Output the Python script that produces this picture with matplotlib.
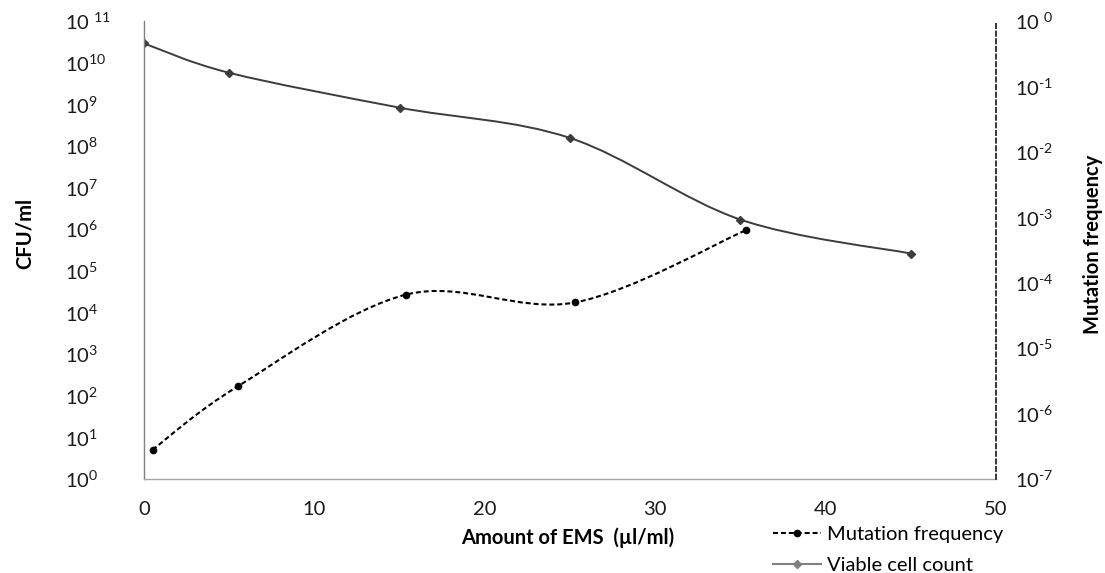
import numpy as np
import matplotlib
matplotlib.use('Agg')
import matplotlib.pyplot as plt
from matplotlib.path import Path
from matplotlib.patches import PathPatch
from matplotlib.lines import Line2D
from matplotlib.ticker import FixedLocator, FixedFormatter

# Dados
ems_viavel = [0, 5, 15, 25, 35, 45]
contagem_viavel = [2.9e10, 5.7e9, 8.3e8, 1.55e8, 1.7e6, 2.6e5]

ems_mutacao = [0.5, 5.5, 15.4, 25.3, 35.3]
freq_mutacao = [2.8e-7, 2.6e-6, 6.6e-5, 5.0e-5, 6.3e-4]

rotulos_esq = ['10$^{0}$', '10$^{1}$', '10$^{2}$', '10$^{3}$', '10$^{4}$', '10$^{5}$',
               '10$^{6}$', '10$^{7}$', '10$^{8}$', '10$^{9}$', '10$^{10}$', '10 $^{11}$']
rotulos_dir = ['10$^{\\text{-}7}$', '10$^{\\text{-}6}$', '10$^{\\text{-}5}$',
               '10$^{\\text{-}4}$', '10$^{\\text{-}3}$', '10$^{\\text{-}2}$',
               '10$^{\\text{-}1}$', '10 $^{0}$']

plt.rcParams['font.family'] = ['Lato', 'DejaVu Sans']
plt.rcParams['mathtext.fontset'] = 'custom'
plt.rcParams['mathtext.rm'] = 'Lato'
plt.rcParams['mathtext.it'] = 'Lato:italic'
plt.rcParams['mathtext.bf'] = 'Lato:bold'

tam = 14.5


def curva_suave(ax, xs, ys, **kw):
    # linha suavizada estilo Excel (Bezier no espaço x, log y)
    x = np.asarray(xs, float)
    ly = np.log10(ys)
    pts = np.column_stack([x, ly])
    p = np.vstack([pts[0], pts, pts[-1]])
    verts = [pts[0]]
    codes = [Path.MOVETO]
    for i in range(1, len(p) - 2):
        c1 = p[i] + (p[i + 1] - p[i - 1]) / 6
        c2 = p[i + 1] - (p[i + 2] - p[i]) / 6
        verts += [c1, c2, p[i + 1]]
        codes += [Path.CURVE4] * 3
    verts = np.array(verts)
    verts[:, 1] = 10 ** verts[:, 1]
    ax.add_patch(PathPatch(Path(verts, codes), fill=False, transform=ax.transData, **kw))


fig = plt.figure(figsize=(11.05, 5.73), dpi=100)
ax = fig.add_axes([144 / 1105, 1 - 479 / 573, (996 - 144) / 1105, (479 - 21) / 573])
ax2 = ax.twinx()

ax.set_xlim(0, 50)
ax.set_yscale('log')
ax.set_ylim(1, 1e11)
ax2.set_yscale('log')
ax2.set_ylim(1e-7, 1)

cor_viavel = '#3c3c3c'
tracejado = (0, (2.4, 1.4))
curva_suave(ax, ems_viavel, contagem_viavel, edgecolor=cor_viavel, linewidth=1.4)
ax.plot(ems_viavel, contagem_viavel, linestyle='none', marker='D', ms=4.5,
        color=cor_viavel)

curva_suave(ax2, ems_mutacao, freq_mutacao, edgecolor='black', linewidth=1.5,
            linestyle=tracejado)
ax2.plot(ems_mutacao, freq_mutacao, linestyle='none', marker='o', ms=4.5, color='black')

# Eixos
ax.set_xticks([0, 10, 20, 30, 40, 50])
ax.yaxis.set_major_locator(FixedLocator([10.0 ** k for k in range(12)]))
ax.yaxis.set_major_formatter(FixedFormatter(rotulos_esq))
ax.yaxis.set_minor_locator(FixedLocator([]))
ax2.yaxis.set_major_locator(FixedLocator([10.0 ** k for k in range(-7, 1)]))
ax2.yaxis.set_major_formatter(FixedFormatter(rotulos_dir))
ax2.yaxis.set_minor_locator(FixedLocator([]))

ax.tick_params(axis='x', length=0, labelsize=tam, pad=16, colors='#1a1a1a')
ax.tick_params(axis='y', length=0, labelsize=tam, pad=57, colors='#1a1a1a')
for t in ax.get_yticklabels():
    t.set_horizontalalignment('left')
ax2.tick_params(axis='y', length=0, labelsize=tam, pad=14, colors='#1a1a1a')

for s in ['top', 'right']:
    ax.spines[s].set_visible(False)
for s in ['top', 'left', 'bottom']:
    ax2.spines[s].set_visible(False)
ax.spines['left'].set_color('#808080')
ax.spines['bottom'].set_color('#a6a6a6')
ax.spines['left'].set_linewidth(1)
ax.spines['bottom'].set_linewidth(1)
ax2.spines['right'].set_linestyle((0, (3, 2)))
ax2.spines['right'].set_color('black')
ax2.spines['right'].set_linewidth(1.1)

fig.text(25 / 1105, 1 - 233 / 573, 'CFU/ml', rotation=90, fontsize=tam,
         fontweight='bold', ha='center', va='center')
fig.text(1093 / 1105, 1 - 244 / 573, 'Mutation frequency', rotation=90, fontsize=tam,
         fontweight='bold', ha='center', va='center')
fig.text(568 / 1105, 1 - 538 / 573, 'Amount of EMS  (µl/ml)', fontsize=tam,
         fontweight='bold', ha='center', va='center')

itens = [
    Line2D([], [], color='black', linestyle=tracejado, linewidth=1.5,
           marker='o', ms=4.5),
    Line2D([], [], color='#808080', linewidth=1.5, marker='D', ms=4.5),
]
fig.legend(itens, ['Mutation frequency', 'Viable cell count'], loc='upper left',
           bbox_to_anchor=(773 / 1105, 1 - 526 / 573), frameon=False, fontsize=tam,
           handlelength=2.4, handletextpad=0.3, borderpad=0, borderaxespad=0,
           labelspacing=0.7)

fig.savefig('out.png', dpi=100)
